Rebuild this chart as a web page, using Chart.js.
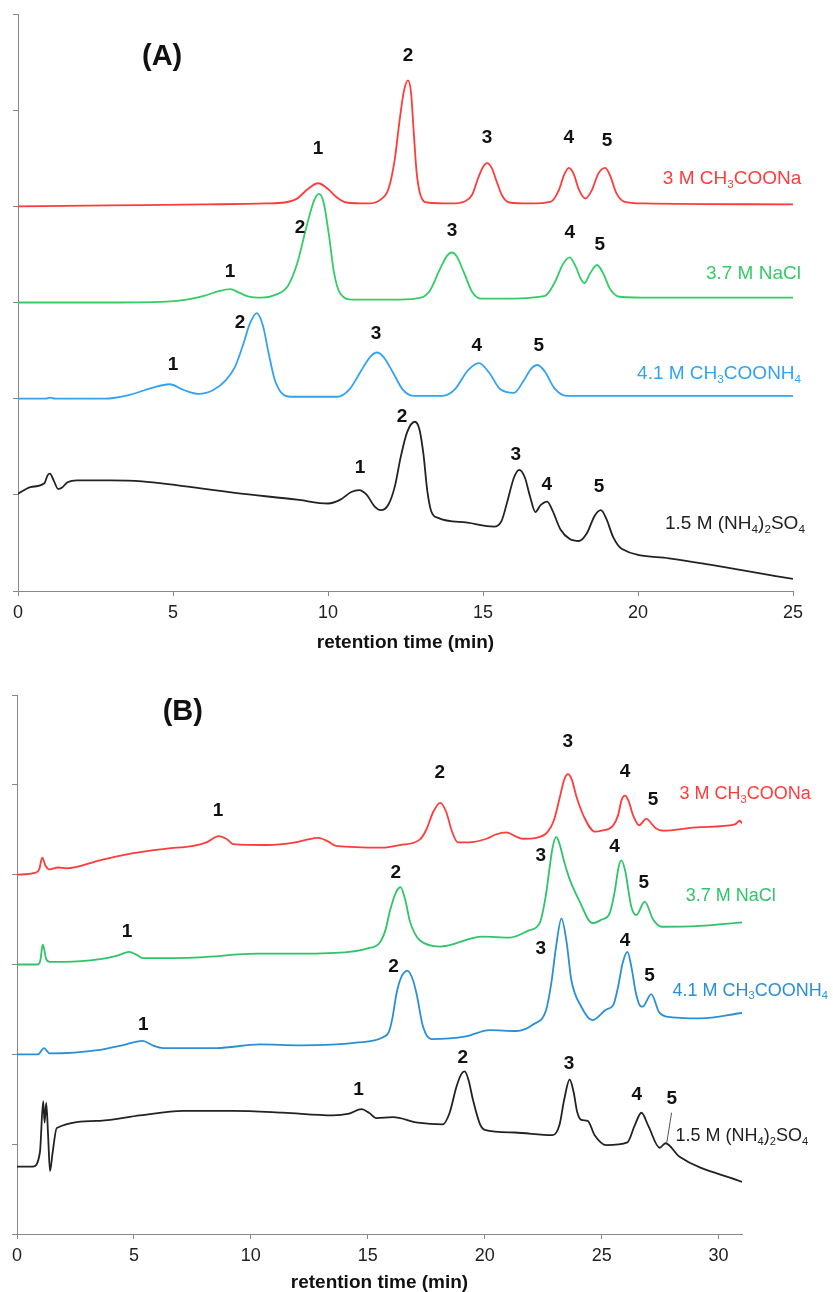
<!DOCTYPE html>
<html>
<head>
<meta charset="utf-8">
<script src="https://cdn.jsdelivr.net/npm/chart.js@4.4.1/dist/chart.umd.min.js"></script>
<style>
  html, body { margin: 0; padding: 0; background: #fff; overflow: hidden; }
  canvas { position: absolute; left: 0; }
  #chartA { top: 0; }
  #chartB { top: 660px; }
</style>
</head>
<body>
<canvas id="chartA" width="833" height="660"></canvas>
<canvas id="chartB" width="833" height="640"></canvas>
<script>
// ---- panel A traces: [retention time (min), signal offset] ----
const aRed = [[0,4.00],[3,4.01],[6,4.02],[8,4.03],[8.6,4.04],[9.0,4.08],[9.35,4.18],[9.68,4.24],[10.0,4.18],[10.3,4.09],[10.6,4.04],[11.3,4.03],[11.7,4.07],[11.95,4.18],[12.15,4.48],[12.32,4.92],[12.45,5.20],[12.58,5.31],[12.68,5.18],[12.76,4.80],[12.86,4.35],[12.98,4.12],[13.2,4.04],[14.0,4.03],[14.4,4.05],[14.65,4.12],[14.85,4.30],[15.0,4.41],[15.13,4.45],[15.28,4.40],[15.45,4.25],[15.62,4.11],[15.85,4.04],[16.5,4.03],[17.2,4.05],[17.45,4.17],[17.62,4.33],[17.77,4.40],[17.92,4.34],[18.1,4.17],[18.3,4.08],[18.5,4.16],[18.72,4.34],[18.94,4.40],[19.1,4.32],[19.3,4.14],[19.55,4.05],[20.2,4.03],[25,4.02]];
const aGreen = [[0,3.00],[2.5,3.00],[4.8,3.01],[5.44,3.03],[6.0,3.07],[6.5,3.12],[6.84,3.14],[7.15,3.10],[7.45,3.06],[7.86,3.05],[8.3,3.08],[8.7,3.17],[9.0,3.40],[9.3,3.78],[9.55,4.06],[9.71,4.13],[9.86,4.04],[10.03,3.70],[10.2,3.30],[10.4,3.09],[10.8,3.03],[12.3,3.03],[13.0,3.05],[13.3,3.13],[13.6,3.34],[13.85,3.49],[13.99,3.52],[14.15,3.48],[14.4,3.30],[14.65,3.11],[14.95,3.04],[15.55,3.04],[17.0,3.07],[17.3,3.20],[17.6,3.41],[17.8,3.47],[17.98,3.38],[18.15,3.25],[18.27,3.20],[18.45,3.30],[18.68,3.39],[18.88,3.30],[19.1,3.14],[19.4,3.06],[20.5,3.05],[25,3.05]];
const aBlue = [[0,2.00],[0.9,2.00],[1.03,2.01],[1.2,2.00],[2.8,2.00],[3.6,2.04],[4.3,2.11],[4.89,2.15],[5.35,2.09],[5.83,2.05],[6.3,2.09],[6.7,2.19],[7.0,2.33],[7.25,2.55],[7.48,2.78],[7.7,2.89],[7.9,2.76],[8.08,2.48],[8.28,2.20],[8.5,2.06],[8.8,2.02],[10.3,2.02],[10.7,2.10],[11.05,2.28],[11.35,2.43],[11.58,2.48],[11.8,2.43],[12.1,2.27],[12.4,2.10],[12.75,2.03],[13.7,2.03],[14.1,2.10],[14.5,2.29],[14.87,2.37],[15.2,2.27],[15.55,2.10],[16.0,2.06],[16.3,2.18],[16.55,2.31],[16.76,2.35],[17.0,2.28],[17.3,2.11],[17.7,2.03],[25,2.03]];
const aBlack = [[0,1.01],[0.4,1.08],[0.85,1.12],[0.95,1.20],[1.03,1.22],[1.15,1.15],[1.3,1.06],[1.4,1.07],[1.6,1.13],[1.9,1.15],[3.0,1.15],[4.0,1.14],[5.1,1.10],[7.0,1.02],[9.0,0.95],[10.0,0.91],[10.4,0.95],[10.75,1.03],[11.0,1.05],[11.25,1.00],[11.5,0.88],[11.7,0.84],[11.95,0.90],[12.15,1.08],[12.35,1.40],[12.55,1.65],[12.8,1.76],[12.95,1.68],[13.08,1.42],[13.2,1.05],[13.33,0.83],[13.55,0.76],[14.5,0.71],[15.35,0.67],[15.6,0.73],[15.8,0.95],[16.0,1.18],[16.17,1.26],[16.35,1.18],[16.52,0.98],[16.69,0.82],[16.85,0.89],[17.07,0.93],[17.25,0.83],[17.5,0.64],[17.8,0.54],[18.1,0.52],[18.35,0.60],[18.6,0.78],[18.8,0.84],[18.98,0.75],[19.2,0.56],[19.47,0.44],[21,0.34],[25,0.125]];

// ---- panel B traces ----
const bRed = [[0,4.00],[0.77,4.02],[0.95,4.06],[1.08,4.19],[1.22,4.10],[1.38,4.06],[1.76,4.08],[2.12,4.07],[3.55,4.16],[4.97,4.24],[6.4,4.29],[7.53,4.32],[8.1,4.36],[8.63,4.43],[8.95,4.40],[9.24,4.34],[10.67,4.33],[11.9,4.36],[12.4,4.39],[12.87,4.41],[13.3,4.37],[13.66,4.32],[15.65,4.30],[16.37,4.33],[17.22,4.39],[17.5,4.50],[17.8,4.70],[18.1,4.80],[18.35,4.70],[18.6,4.48],[18.85,4.36],[19.3,4.36],[20.08,4.40],[20.5,4.45],[20.93,4.47],[21.3,4.43],[21.62,4.40],[22.2,4.41],[22.7,4.48],[22.95,4.60],[23.2,4.85],[23.4,5.06],[23.56,5.12],[23.72,5.06],[23.92,4.87],[24.27,4.63],[24.7,4.48],[25.0,4.49],[25.47,4.54],[25.7,4.66],[25.85,4.83],[26.0,4.88],[26.15,4.82],[26.33,4.67],[26.6,4.55],[26.9,4.62],[27.3,4.52],[27.6,4.49],[29.2,4.53],[30.7,4.56],[30.9,4.60],[31.0,4.57]];
const bGreen = [[0,3.00],[0.9,3.00],[1.0,3.05],[1.1,3.22],[1.25,3.06],[1.4,3.03],[2.0,3.03],[3.55,3.06],[4.3,3.10],[4.8,3.14],[5.1,3.11],[5.4,3.07],[7.8,3.08],[10.25,3.12],[12.1,3.12],[14.2,3.14],[15.0,3.18],[15.5,3.24],[15.75,3.38],[15.95,3.60],[16.2,3.80],[16.4,3.86],[16.6,3.72],[16.8,3.48],[17.0,3.35],[17.22,3.27],[18.08,3.20],[19.9,3.31],[21.07,3.30],[21.9,3.38],[22.35,3.46],[22.6,3.75],[22.78,4.09],[22.9,4.30],[23.06,4.42],[23.2,4.34],[23.4,4.14],[23.63,3.95],[24.06,3.70],[24.6,3.46],[25.0,3.50],[25.34,3.57],[25.55,3.80],[25.72,4.08],[25.84,4.16],[26.0,4.05],[26.27,3.64],[26.48,3.55],[26.84,3.70],[27.2,3.50],[27.55,3.42],[29.2,3.43],[31,3.47]];
const bBlue = [[0,2.00],[0.9,2.00],[1.15,2.07],[1.4,2.01],[3.55,2.05],[4.5,2.10],[5.37,2.15],[5.8,2.10],[6.25,2.07],[8.53,2.07],[10.38,2.11],[12.1,2.10],[14.5,2.13],[15.65,2.19],[15.9,2.25],[16.05,2.40],[16.23,2.68],[16.45,2.87],[16.7,2.93],[16.9,2.85],[17.08,2.68],[17.36,2.31],[17.72,2.17],[19.2,2.20],[20.2,2.27],[21.35,2.26],[22.05,2.33],[22.63,2.50],[22.85,2.80],[23.05,3.20],[23.28,3.51],[23.5,3.25],[23.7,2.83],[24.13,2.53],[24.6,2.38],[25.2,2.50],[25.5,2.55],[25.7,2.75],[25.9,3.02],[26.1,3.14],[26.28,2.96],[26.45,2.70],[26.6,2.56],[26.75,2.53],[27.12,2.67],[27.45,2.47],[27.76,2.42],[29.2,2.40],[31,2.46]];
const bBlack = [[0,0.75],[0.68,0.75],[0.98,0.91],[1.12,1.48],[1.18,1.24],[1.25,1.46],[1.33,1.10],[1.41,0.70],[1.52,0.90],[1.7,1.18],[3.55,1.26],[5.26,1.32],[7.1,1.37],[9.24,1.37],[11.37,1.35],[13.5,1.32],[14.2,1.34],[14.73,1.39],[15.05,1.35],[15.37,1.29],[16.07,1.30],[17.14,1.24],[18.2,1.22],[18.5,1.35],[18.79,1.64],[19.0,1.78],[19.14,1.81],[19.3,1.72],[19.5,1.49],[19.8,1.22],[20.0,1.16],[21.28,1.13],[22.9,1.10],[23.2,1.22],[23.4,1.50],[23.63,1.72],[23.8,1.58],[23.95,1.36],[24.13,1.27],[24.4,1.26],[24.7,1.10],[25.2,0.99],[26.1,1.02],[26.4,1.20],[26.7,1.35],[27.0,1.20],[27.48,0.96],[27.73,1.01],[28.33,0.86],[31,0.58]];

// ---- peak numbers [x, y, text] ----
const peaksA = [
  [9.68,4.60,'1'],[12.58,5.57,'2'],[15.13,4.71,'3'],[17.77,4.71,'4'],[19.0,4.68,'5'],
  [6.84,3.32,'1'],[9.1,3.78,'2'],[14.0,3.75,'3'],[17.8,3.72,'4'],[18.77,3.60,'5'],
  [5.0,2.35,'1'],[7.16,2.79,'2'],[11.55,2.68,'3'],[14.8,2.55,'4'],[16.8,2.55,'5'],
  [11.03,1.28,'1'],[12.39,1.81,'2'],[16.06,1.42,'3'],[17.06,1.10,'4'],[18.74,1.08,'5']
];
const peaksB = [
  [8.6,4.71,'1'],[18.08,5.13,'2'],[23.55,5.48,'3'],[26.0,5.14,'4'],[27.2,4.83,'5'],
  [4.7,3.36,'1'],[16.2,4.02,'2'],[22.4,4.21,'3'],[25.55,4.31,'4'],[26.8,3.91,'5'],
  [5.4,2.33,'1'],[16.1,2.98,'2'],[22.4,3.17,'3'],[26.0,3.26,'4'],[27.05,2.87,'5'],
  [14.6,1.61,'1'],[19.06,1.96,'2'],[23.6,1.90,'3'],[26.5,1.55,'4'],[28.0,1.50,'5']
];
const leaderB = [[27.78,1.01],[27.99,1.35]];

// ---- series names (parts: [text, isSubscript]) ----
const nameRed = [['3 M CH',0],['3',1],['COONa',0]];
const nameGreen = [['3.7 M NaCl',0]];
const nameBlue = [['4.1 M CH',0],['3',1],['COONH',0],['4',1]];
const nameBlack = [['1.5 M (NH',0],['4',1],[')',0],['2',1],['SO',0],['4',1]];
const namePosA = [[20.8,4.29],[22.19,3.30],[19.97,2.26],[20.87,0.70]];
const namePosB = [[28.33,4.90],[28.59,3.76],[28.03,2.71],[28.16,1.09]];

const FONT = "'Liberation Sans', Arial, sans-serif";
const pts = arr => arr.map(([x, y]) => ({ x: x, y: y }));

function drawRich(ctx, x, y, parts, size, color) {
  ctx.fillStyle = color;
  ctx.textBaseline = 'middle';
  ctx.textAlign = 'left';
  let cx = x;
  parts.forEach(([txt, sub]) => {
    const s = sub ? size * 0.62 : size;
    ctx.font = s + 'px ' + FONT;
    ctx.fillText(txt, cx, sub ? y + size * 0.32 : y);
    cx += ctx.measureText(txt).width;
  });
}

function labelPlugin(peaks, names, namePos, colors, tag, tagPos, leader, nameSize) {
  return {
    id: 'labels' + tag,
    afterDraw(chart) {
      const ctx = chart.ctx, xs = chart.scales.x, ys = chart.scales.y;
      ctx.save();
      ctx.fillStyle = '#111';
      ctx.textAlign = 'center';
      ctx.textBaseline = 'middle';
      ctx.font = 'bold 19px ' + FONT;
      peaks.forEach(p => ctx.fillText(p[2], xs.getPixelForValue(p[0]), ys.getPixelForValue(p[1])));
      ctx.font = 'bold 29px ' + FONT;
      ctx.fillText(tag, xs.getPixelForValue(tagPos[0]), ys.getPixelForValue(tagPos[1]));
      names.forEach((n, i) => drawRich(ctx, xs.getPixelForValue(namePos[i][0]), ys.getPixelForValue(namePos[i][1]), n, nameSize, colors[i]));
      if (leader) {
        ctx.strokeStyle = '#555';
        ctx.lineWidth = 1;
        ctx.beginPath();
        ctx.moveTo(xs.getPixelForValue(leader[0][0]), ys.getPixelForValue(leader[0][1]));
        ctx.lineTo(xs.getPixelForValue(leader[1][0]), ys.getPixelForValue(leader[1][1]));
        ctx.stroke();
      }
      ctx.restore();
    }
  };
}

function ds(data, color) {
  return { data: pts(data), borderColor: color, borderWidth: 1.8, pointRadius: 0, fill: false, cubicInterpolationMode: 'monotone' };
}

function makeOpts(xmax, pad, xHeight) {
  return {
    responsive: false,
    animation: false,
    devicePixelRatio: 1,
    layout: { padding: pad },
    plugins: { legend: { display: false }, tooltip: { enabled: false } },
    scales: {
      x: {
        type: 'linear', min: 0, max: xmax,
        border: { color: '#888', width: 1 },
        grid: { drawOnChartArea: false, tickLength: 5, tickColor: '#888' },
        ticks: { stepSize: 5, includeBounds: false, color: '#222', padding: 6, maxRotation: 0, font: { size: 18, family: FONT } },
        title: { display: true, text: 'retention time (min)', color: '#111', padding: { top: 0, bottom: 6 }, font: { size: 19, weight: 'bold', family: FONT } },
        afterFit: s => { s.height = xHeight; }
      },
      y: {
        min: 0, max: 6,
        border: { color: '#888', width: 1 },
        grid: { drawOnChartArea: false, tickLength: 5, tickColor: '#888' },
        ticks: { stepSize: 1, display: false },
        afterFit: s => { s.width = 5; }
      }
    }
  };
}

const colA = ['#ff3b3b', '#33cc66', '#33a3f0', '#222222'];
const colB = ['#ff3b3b', '#2fc46a', '#2b8fd8', '#222222'];

new Chart(document.getElementById('chartA'), {
  type: 'line',
  data: { datasets: [ds(aRed, colA[0]), ds(aGreen, colA[1]), ds(aBlue, colA[2]), ds(aBlack, colA[3])] },
  options: makeOpts(25, { left: 13, right: 40, top: 14, bottom: 0 }, 69),
  plugins: [labelPlugin(peaksA, [nameRed, nameGreen, nameBlue, nameBlack], namePosA, colA, '(A)', [4.65, 5.55], null, 19)]
});

new Chart(document.getElementById('chartB'), {
  type: 'line',
  data: { datasets: [ds(bRed, colB[0]), ds(bGreen, colB[1]), ds(bBlue, colB[2]), ds(bBlack, colB[3])] },
  options: makeOpts(31, { left: 12, right: 91, top: 35, bottom: 0 }, 66),
  plugins: [labelPlugin(peaksB, [nameRed, nameGreen, nameBlue, nameBlack], namePosB, colB, '(B)', [7.09, 5.81], leaderB, 18)]
});
</script>
</body>
</html>
